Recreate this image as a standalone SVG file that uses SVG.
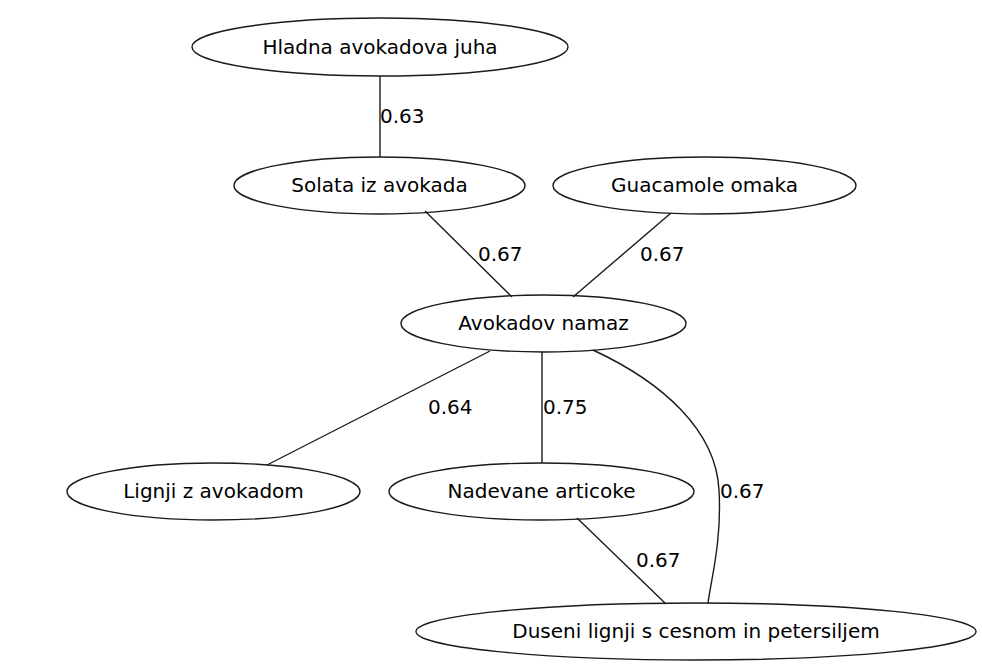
<svg xmlns="http://www.w3.org/2000/svg" width="982" height="668" viewBox="0 0 982 668">
  <style>
    .node ellipse { fill: none; stroke: #1a1a1a; stroke-width: 1.4; }
    .node text { font-family: "DejaVu Sans", sans-serif; font-size: 20px; fill: #000; text-anchor: middle; }
    .edges path { fill: none; stroke: #1a1a1a; stroke-width: 1.4; }
    .edges text { font-family: "DejaVu Sans", sans-serif; font-size: 20px; fill: #000; }
  </style>
  <rect width="982" height="668" fill="#ffffff"/>

  <g class="edges" id="edges">
    <path d="M380,76 L380,157"/>
    <text x="380" y="123">0.63</text>
    <path d="M425,211 L512,297"/>
    <text x="478" y="261">0.67</text>
    <path d="M671,213 L573,297"/>
    <text x="640" y="261">0.67</text>
    <path d="M490,351 L267,465"/>
    <text x="428" y="414">0.64</text>
    <path d="M542,352 L542,463"/>
    <text x="543" y="414">0.75</text>
    <path d="M593,350 C662,382 716,430 719,490 C722,540 711,580 708,603"/>
    <text x="720" y="498">0.67</text>
    <path d="M577,518 L666,604"/>
    <text x="636" y="567">0.67</text>
  </g>

  <g class="node" id="hladna">
    <ellipse cx="380" cy="47" rx="188" ry="29"/>
    <text x="380" y="54">Hladna avokadova juha</text>
  </g>
  <g class="node" id="solata">
    <ellipse cx="379.5" cy="185.5" rx="145.5" ry="28.5"/>
    <text x="379.5" y="192">Solata iz avokada</text>
  </g>
  <g class="node" id="guacamole">
    <ellipse cx="704.5" cy="185.5" rx="151.5" ry="28.5"/>
    <text x="704.5" y="192">Guacamole omaka</text>
  </g>
  <g class="node" id="avokadov">
    <ellipse cx="543.5" cy="323.5" rx="142.5" ry="28.5"/>
    <text x="543.5" y="330">Avokadov namaz</text>
  </g>
  <g class="node" id="lignji">
    <ellipse cx="213.5" cy="491.5" rx="146.5" ry="28.5"/>
    <text x="213.5" y="498">Lignji z avokadom</text>
  </g>
  <g class="node" id="nadevane">
    <ellipse cx="541.5" cy="491.5" rx="152.5" ry="28.5"/>
    <text x="541.5" y="498">Nadevane articoke</text>
  </g>
  <g class="node" id="duseni">
    <ellipse cx="696" cy="631.5" rx="280" ry="28.5"/>
    <text x="696" y="638">Duseni lignji s cesnom in petersiljem</text>
  </g>
</svg>
